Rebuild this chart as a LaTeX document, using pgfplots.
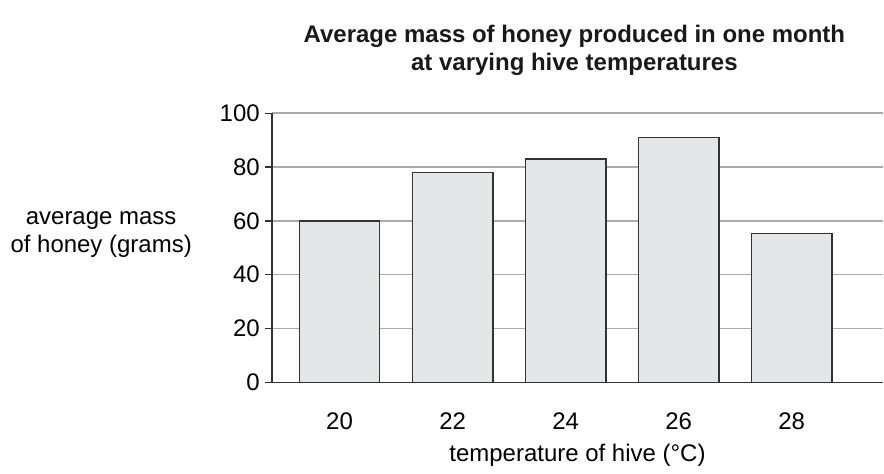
\documentclass[border=0pt]{standalone}
\usepackage{pgfplots}
\pgfplotsset{compat=1.18}
\usepackage{fontspec}
\setmainfont{Liberation Sans}
\definecolor{barfill}{HTML}{E5E6E8}
\definecolor{bardraw}{HTML}{333333}
\definecolor{gridgray}{HTML}{ABABAB}
\definecolor{axisdark}{HTML}{333333}
\begin{document}
\begin{tikzpicture}
\path (-136pt,-42.15pt) rectangle (306pt,191.35pt);
\begin{axis}[
  scale only axis,
  width=306pt, height=134.7pt,
  at={(0,0)}, anchor=south west,
  xmin=-0.6, xmax=4.81,
  ymin=0, ymax=100,
  axis x line*=bottom, axis y line*=left,
  axis line style={-, draw=axisdark, line width=0.8pt},
  every outer x axis line/.append style={-},
  every outer y axis line/.append style={-},
  every inner x axis line/.append style={-},
  every inner y axis line/.append style={-},
  xtick=data,
  xticklabels={20,22,24,26,28},
  major x tick style={draw=none},
  ytick={0,20,40,60,80,100},
  tick align=outside,
  major tick length=3.5pt,
  ytick pos=left,
  y tick style={draw=axisdark, line width=0.7pt},
  ymajorgrids,
  grid style={draw=gridgray, line width=0.8pt},
  tick label style={font=\fontsize{12}{14}\selectfont},
  /pgf/number format/assume math mode=true,
  xticklabel style={yshift=-8pt},
  yticklabel style={xshift=1pt},
  title={Average mass of honey produced in one month\\at varying hive temperatures},
  title style={at={(axis description cs:0.495,1.19)}, anchor=center, align=center,
    font=\bfseries\fontsize{12}{14}\selectfont, text=black!90},
  xlabel={temperature of hive (°C)},
  xlabel style={at={(axis description cs:0.5,-0.272)}, anchor=center,
    font=\fontsize{12}{14}\selectfont},
  ylabel={average mass\\of honey (grams)},
  ylabel style={rotate=-90, at={(axis description cs:-0.279,0.548)}, anchor=center,
    align=center, font=\fontsize{12}{14}\selectfont},
  clip=false,
]
\addplot[ybar, bar width=40.25pt, fill=barfill, draw=bardraw, line width=0.7pt]
  coordinates {(0,60) (1,78) (2,83) (3,91) (4,55.3)};
\end{axis}
\end{tikzpicture}
\end{document}
